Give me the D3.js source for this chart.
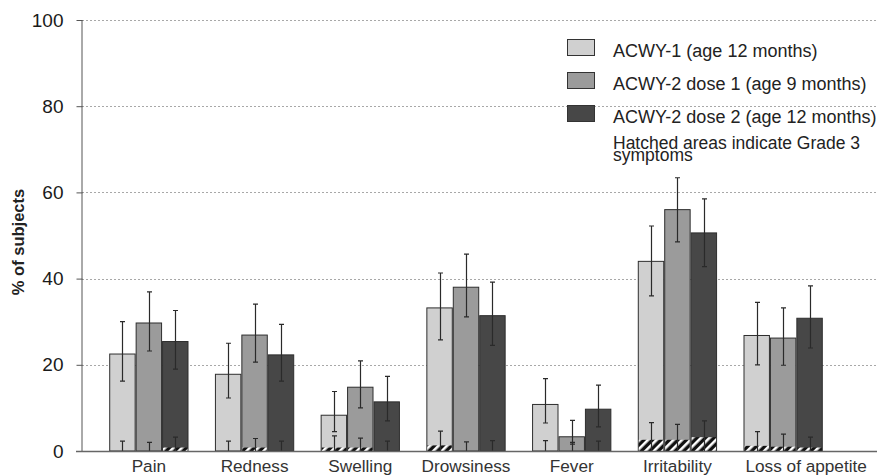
<!DOCTYPE html>
<html>
<head>
<meta charset="utf-8">
<script src="https://cdn.jsdelivr.net/npm/d3@7"></script>
<style>
  body { margin: 0; background: #fff; }
  svg { display: block; font-family: "Liberation Sans", Arial, sans-serif; }
</style>
</head>
<body>
<svg id="chart" width="877" height="476"></svg>
<script>
"use strict";

/********/
/* data */
/********/

const categories = ["Pain", "Redness", "Swelling", "Drowsiness", "Fever", "Irritability", "Loss of appetite"];
const seriesNames = ["ACWY-1 (age 12 months)", "ACWY-2 dose 1 (age 9 months)", "ACWY-2 dose 2 (age 12 months)"];
const yTicks = [0, 20, 40, 60, 80, 100];

const acwy1 = [22.5, 17.8, 8.3, 33.2, 10.8, 44.0, 26.8];
const acwy1Lo = [16.2, 12.3, 4.5, 25.8, 6.5, 36.0, 20.0];
const acwy1Hi = [30.0, 25.0, 13.8, 41.3, 16.8, 52.2, 34.5];
const acwy1G3 = [0, 0, 0.8, 1.3, 0, 2.6, 1.2];
const acwy1G3Hi = [2.3, 2.3, 3.5, 4.6, 2.4, 6.6, 4.5];

const acwy2d1 = [29.7, 26.9, 14.8, 38.0, 3.3, 56.0, 26.2];
const acwy2d1Lo = [23.2, 20.6, 10.0, 31.1, 1.6, 48.5, 19.9];
const acwy2d1Hi = [36.9, 34.1, 20.9, 45.7, 7.1, 63.4, 33.2];
const acwy2d1G3 = [0, 0.8, 0.8, 0, 0, 2.6, 1.0];
const acwy2d1G3Hi = [2.0, 2.9, 3.0, 2.1, 2.0, 6.2, 3.9];

const acwy2d2 = [25.4, 22.3, 11.4, 31.4, 9.7, 50.6, 30.8];
const acwy2d2Lo = [19.0, 16.2, 7.0, 24.5, 5.6, 42.8, 23.9];
const acwy2d2Hi = [32.6, 29.4, 17.3, 39.2, 15.3, 58.5, 38.3];
const acwy2d2G3 = [0.8, 0, 0, 0, 0, 3.2, 0.8];
const acwy2d2G3Hi = [3.2, 2.3, 2.3, 2.4, 2.3, 7.0, 3.2];

const colours = ["#d0d0d0", "#9b9b9b", "#474747"];

const seriesData = [
  [acwy1, acwy1Lo, acwy1Hi, acwy1G3, acwy1G3Hi],
  [acwy2d1, acwy2d1Lo, acwy2d1Hi, acwy2d1G3, acwy2d1G3Hi],
  [acwy2d2, acwy2d2Lo, acwy2d2Hi, acwy2d2G3, acwy2d2G3Hi],
];

const rows = [];
seriesData.forEach(function(s, si) {
  categories.forEach(function(cat, ci) {
    rows.push({
      cat: cat,
      series: seriesNames[si],
      idx: si,
      value: s[0][ci],
      lo: s[1][ci],
      hi: s[2][ci],
      g3: s[3][ci],
      g3Hi: s[4][ci],
    });
  });
});

/**********/
/* scales */
/**********/

const svg = d3.select("#chart");
const left = 82;
const right = 877;

const x = d3
  .scaleBand()
  .domain(categories)
  .range([96, 836])
  .paddingInner(0.25)
  .paddingOuter(0.125);

const xSub = d3
  .scaleBand()
  .domain(seriesNames)
  .range([0, x.bandwidth()]);

const y = d3.scaleLinear().domain([0, 100]).range([451, 20]);

/********/
/* defs */
/********/

const pattern = svg
  .append("defs")
  .append("pattern")
  .attr("id", "hatch")
  .attr("patternUnits", "userSpaceOnUse")
  .attr("width", 6)
  .attr("height", 6)
  .attr("patternTransform", "rotate(45)");
pattern.append("rect").attr("width", 6).attr("height", 6).attr("fill", "#111");
pattern.append("rect").attr("width", 2.6).attr("height", 6).attr("fill", "#fff");

/********/
/* grid */
/********/

svg
  .append("g")
  .selectAll("line")
  .data(yTicks.filter(t => t > 0))
  .join("line")
  .attr("x1", left)
  .attr("x2", right)
  .attr("y1", d => Math.round(y(d)) + 0.5)
  .attr("y2", d => Math.round(y(d)) + 0.5)
  .attr("stroke", "#a8a8a8")
  .attr("stroke-dasharray", "2,2");

/********/
/* axes */
/********/

const yAxis = svg
  .append("g")
  .attr("transform", "translate(" + (left + 0.5) + ",0)")
  .call(
    d3
      .axisLeft(y)
      .tickValues(yTicks)
      .tickSize(6)
      .tickPadding(13)
  );
yAxis.select(".domain").attr("stroke", "#555").attr("d", "M-0.5," + y(100) + "V" + y(0));
yAxis.selectAll(".tick line").attr("stroke", "#555");
yAxis
  .selectAll(".tick text")
  .attr("font-size", "19px")
  .attr("font-family", "Liberation Sans, Arial, sans-serif")
  .attr("fill", "#1a1a1a");

svg
  .append("text")
  .attr("transform", "translate(24," + 242 + ") rotate(-90)")
  .attr("text-anchor", "middle")
  .attr("font-size", "16.5px")
  .attr("font-weight", "bold")
  .attr("fill", "#222")
  .text("% of subjects");

/********/
/* bars */
/********/

const bars = svg.append("g");

bars
  .selectAll("rect.main")
  .data(rows)
  .join("rect")
  .attr("class", "main")
  .attr("x", d => x(d.cat) + xSub(d.series) + 0.5)
  .attr("y", d => y(d.value))
  .attr("width", xSub.bandwidth() - 1)
  .attr("height", d => y(0) - y(d.value))
  .attr("fill", d => colours[d.idx])
  .attr("stroke", "#2e2e2e")
  .attr("stroke-width", 1);

bars
  .selectAll("rect.g3")
  .data(rows.filter(d => d.g3 > 0))
  .join("rect")
  .attr("class", "g3")
  .attr("x", d => x(d.cat) + xSub(d.series) + 1)
  .attr("y", d => y(d.g3))
  .attr("width", xSub.bandwidth() - 2)
  .attr("height", d => y(0) - y(d.g3))
  .attr("fill", "url(#hatch)");

/**************/
/* error bars */
/**************/

const cap = 2.5;
const err = svg.append("g").attr("stroke", "#2a2a2a").attr("stroke-width", 1.2);

function errPath(cx, lo, hi, capLo) {
  let p = "M" + cx + "," + y(lo) + "V" + y(hi);
  p += "M" + (cx - cap) + "," + y(hi) + "H" + (cx + cap);
  if (capLo) p += "M" + (cx - cap) + "," + y(lo) + "H" + (cx + cap);
  return p;
}

err
  .selectAll("path.main")
  .data(rows)
  .join("path")
  .attr("class", "main")
  .attr("fill", "none")
  .attr("d", d => errPath(Math.round(x(d.cat) + xSub(d.series) + xSub.bandwidth() / 2) + 0.5, d.lo, d.hi, true));

err
  .selectAll("path.g3")
  .data(rows)
  .join("path")
  .attr("class", "g3")
  .attr("fill", "none")
  .attr("d", d => errPath(Math.round(x(d.cat) + xSub(d.series) + xSub.bandwidth() / 2) + 0.5, 0, d.g3Hi, false));

/* x baseline */
svg
  .append("line")
  .attr("x1", left - 6)
  .attr("x2", right)
  .attr("y1", y(0) + 0.5)
  .attr("y2", y(0) + 0.5)
  .attr("stroke", "#666")
  .attr("stroke-width", 1.5);

/* category labels: the long last one starts at its band instead of centring */
const lastCat = categories[categories.length - 1];
svg
  .append("g")
  .selectAll("text")
  .data(categories)
  .join("text")
  .attr("x", d => (d === lastCat ? x(d) + 2 : x(d) + x.bandwidth() / 2))
  .attr("y", 472)
  .attr("text-anchor", d => (d === lastCat ? "start" : "middle"))
  .attr("font-size", "17.2px")
  .attr("fill", "#333")
  .text(d => d);

/**********/
/* legend */
/**********/

const legend = svg.append("g");
const legendTop = [39, 72, 105];

legend
  .selectAll("rect")
  .data(seriesNames)
  .join("rect")
  .attr("x", 567.5)
  .attr("y", (d, i) => legendTop[i] + 0.5)
  .attr("width", 27)
  .attr("height", 16)
  .attr("fill", (d, i) => colours[i])
  .attr("stroke", "#333");

legend
  .selectAll("text.series")
  .data(seriesNames)
  .join("text")
  .attr("class", "series")
  .attr("x", 613)
  .attr("y", (d, i) => legendTop[i] + 18)
  .attr("font-size", "18px")
  .attr("fill", "#222")
  .text(d => d);

legend
  .append("text")
  .attr("x", 613)
  .attr("y", 148.5)
  .attr("font-size", "17.5px")
  .attr("fill", "#222")
  .text("Hatched areas indicate Grade 3");

legend
  .append("text")
  .attr("x", 613)
  .attr("y", 161)
  .attr("font-size", "17.5px")
  .attr("fill", "#222")
  .text("symptoms");
</script>
</body>
</html>
